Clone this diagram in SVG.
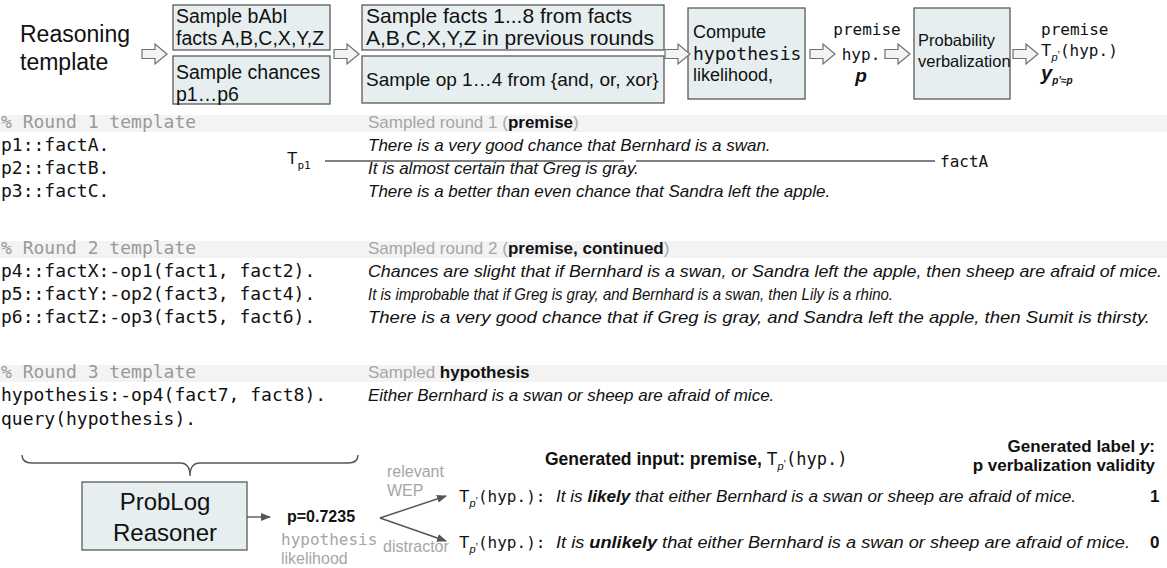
<svg xmlns="http://www.w3.org/2000/svg" width="1167" height="568" viewBox="0 0 1167 568">
<style>
.box{fill:#e6eef0;stroke:#5a5a5a;stroke-width:1.3}
.arr{fill:#f2f4f4;stroke:#707070;stroke-width:1.2}
.sans{font-family:"Liberation Sans",Arial,sans-serif;fill:#111}
.mono{font-family:"DejaVu Sans Mono","Liberation Mono",monospace;fill:#111}
.code{font-size:18px}
.cmt{fill:#999}
.gray{fill:#a6a6a6}
.band{fill:#f3f3f3}
.it{font-style:italic}
.b{font-weight:bold}
.n{font-weight:normal}
.sent{font-size:17px;font-style:italic}
.ln{stroke:#555;stroke-width:1.4;fill:none}
</style>
<defs>
<path id="harrow" d="M0,-4.5 L13,-4.5 L13,-10 L25,0 L13,10 L13,4.5 L0,4.5 Z"/>
<marker id="ah" markerWidth="10" markerHeight="8" refX="9" refY="4" orient="auto" markerUnits="userSpaceOnUse"><path d="M0,0 L10,4 L0,8 Z" fill="#555"/></marker>
</defs>

<rect class="band" x="0" y="115" width="1167" height="17"/>
<rect class="band" x="0" y="241" width="1167" height="17"/>
<rect class="band" x="0" y="365" width="1167" height="17"/>

<g id="title">
<text class="sans" x="20" y="42" font-size="23">Reasoning</text>
<text class="sans" x="20" y="70" font-size="23">template</text>
</g>

<g id="n-babi">
<rect class="box" x="173" y="5" width="157" height="45"/>
<text class="sans" x="176" y="23" font-size="19.5">Sample bAbI</text>
<text class="sans" x="176" y="45" font-size="19.5">facts A,B,C,X,Y,Z</text>
</g>
<g id="n-chances">
<rect class="box" x="173" y="56" width="157" height="48"/>
<text class="sans" x="176" y="79" font-size="19.5">Sample chances</text>
<text class="sans" x="176" y="101" font-size="19.5">p1…p6</text>
</g>
<g id="n-facts">
<rect class="box" x="362" y="5" width="302" height="45"/>
<text class="sans" x="366" y="23" font-size="21">Sample facts 1...8 from facts</text>
<text class="sans" x="366" y="45" font-size="21">A,B,C,X,Y,Z in previous rounds</text>
</g>
<g id="n-ops">
<rect class="box" x="362" y="56" width="302" height="47"/>
<text class="sans" x="366" y="86" font-size="19">Sample op 1…4 from {and, or, xor}</text>
</g>
<g id="n-compute">
<rect class="box" x="688" y="8" width="117" height="91"/>
<text class="sans" x="693" y="38" font-size="18">Compute</text>
<text class="mono" x="693" y="60" font-size="18">hypothesis</text>
<text class="sans" x="693" y="81" font-size="18">likelihood,</text>
</g>
<g id="n-mid">
<text class="mono" x="867" y="35" font-size="16" text-anchor="middle">premise</text>
<text class="mono" x="861" y="60" font-size="16" text-anchor="middle">hyp.</text>
<text class="sans b it" x="861" y="82" font-size="19" text-anchor="middle">p</text>
</g>
<g id="n-verbal">
<rect class="box" x="914" y="8" width="96" height="91"/>
<text class="sans" x="918" y="46" font-size="16.5">Probability</text>
<text class="sans" x="918" y="67" font-size="16.5">verbalization</text>
</g>
<g id="n-out">
<text class="mono" x="1041" y="35" font-size="16">premise</text>
<text class="sans" x="1041" y="56" font-size="17">T<tspan class="it" font-size="11" dy="5">p</tspan><tspan font-size="11" dy="-2">’</tspan><tspan class="mono" font-size="16" dy="-3">(hyp.)</tspan></text>
<text class="sans b it" x="1041" y="80" font-size="20">y<tspan font-size="10" dy="4">p’≈p</tspan></text>
</g>

<g id="round1">
<text class="mono code cmt" x="1" y="128">% Round 1 template</text>
<text class="sans gray" x="368" y="128" font-size="17">Sampled round 1 (<tspan class="b" fill="#111">premise</tspan>)</text>
<text class="mono code" x="1" y="151">p1::factA.</text>
<text class="mono code" x="1" y="174">p2::factB.</text>
<text class="mono code" x="1" y="197">p3::factC.</text>
<text class="sans sent" x="368" y="151">There is a very good chance that Bernhard is a swan.</text>
<text class="sans sent" x="368" y="174">It is almost certain that Greg is gray.</text>
<text class="sans sent" x="368" y="197">There is a better than even chance that Sandra left the apple.</text>
<text class="sans" x="287" y="164" font-size="17">T<tspan class="mono" font-size="11" dy="5">p1</tspan></text>
<text class="mono" x="940" y="167" font-size="16">factA</text>
</g>

<g id="round2">
<text class="mono code cmt" x="1" y="254">% Round 2 template</text>
<text class="sans gray" x="368" y="254" font-size="17">Sampled round 2 (<tspan class="b" fill="#111">premise, continued</tspan>)</text>
<text class="mono code" x="1" y="277">p4::factX:-op1(fact1, fact2).</text>
<text class="mono code" x="1" y="300">p5::factY:-op2(fact3, fact4).</text>
<text class="mono code" x="1" y="323">p6::factZ:-op3(fact5, fact6).</text>
<text class="sans sent" x="368" y="277" textLength="794" lengthAdjust="spacingAndGlyphs">Chances are slight that if Bernhard is a swan, or Sandra left the apple, then sheep are afraid of mice.</text>
<text class="sans sent" x="368" y="300" textLength="525" lengthAdjust="spacingAndGlyphs">It is improbable that if Greg is gray, and Bernhard is a swan, then Lily is a rhino.</text>
<text class="sans sent" x="368" y="323" textLength="782" lengthAdjust="spacingAndGlyphs">There is a very good chance that if Greg is gray, and Sandra left the apple, then Sumit is thirsty.</text>
</g>

<g id="round3">
<text class="mono code cmt" x="1" y="378">% Round 3 template</text>
<text class="sans gray" x="368" y="378" font-size="17">Sampled <tspan class="b" fill="#111">hypothesis</tspan></text>
<text class="mono code" x="1" y="401">hypothesis:-op4(fact7, fact8).</text>
<text class="mono code" x="1" y="425">query(hypothesis).</text>
<text class="sans sent" x="368" y="401">Either Bernhard is a swan or sheep are afraid of mice.</text>
</g>

<g id="n-problog">
<rect class="box" x="82" y="482" width="165" height="68"/>
<text class="sans" x="165" y="510" font-size="24" text-anchor="middle">ProbLog</text>
<text class="sans" x="165" y="541" font-size="24" text-anchor="middle">Reasoner</text>
</g>
<g id="n-p">
<text class="sans b" x="287" y="522" font-size="16">p=0.7235</text>
<text class="mono gray" x="281" y="545" font-size="16">hypothesis</text>
<text class="sans gray" x="281" y="564" font-size="16">likelihood</text>
</g>
<g id="labels">
<text class="sans gray" x="387" y="477" font-size="16">relevant</text>
<text class="sans gray" x="387" y="496" font-size="16">WEP</text>
<text class="sans gray" x="383" y="552" font-size="16">distractor</text>
</g>
<g id="n-head">
<text class="sans b" x="545" y="465" font-size="17.5">Generated input: premise, <tspan class="n">T</tspan><tspan class="n it" font-size="11" dy="5">p</tspan><tspan class="n" font-size="11" dy="-2">’</tspan><tspan class="n mono" font-size="17" dy="-3">(hyp.)</tspan></text>
<text class="sans b" x="1155" y="452" font-size="17" text-anchor="end">Generated label <tspan class="it">y</tspan>:</text>
<text class="sans b" x="1155" y="471" font-size="17" text-anchor="end">p verbalization validity</text>
</g>
<g id="n-row1">
<text class="sans" x="459" y="502" font-size="17">T<tspan class="it" font-size="11" dy="5">p</tspan><tspan font-size="11" dy="-2">’</tspan><tspan class="mono" font-size="16" dy="-3">(hyp.):</tspan></text>
<text class="sans it" x="556" y="502" font-size="16" textLength="520" lengthAdjust="spacingAndGlyphs">It is <tspan class="b">likely</tspan> that either Bernhard is a swan or sheep are afraid of mice.</text>
<text class="sans b" x="1150" y="502" font-size="17">1</text>
</g>
<g id="n-row2">
<text class="sans" x="459" y="548" font-size="17">T<tspan class="it" font-size="11" dy="5">p</tspan><tspan font-size="11" dy="-2">’</tspan><tspan class="mono" font-size="16" dy="-3">(hyp.):</tspan></text>
<text class="sans it" x="556" y="548" font-size="16" textLength="574" lengthAdjust="spacingAndGlyphs">It is <tspan class="b">unlikely</tspan> that either Bernhard is a swan or sheep are afraid of mice.</text>
<text class="sans b" x="1150" y="548" font-size="17">0</text>
</g>

<g id="connectors">
<use href="#harrow" class="arr" x="142" y="54"/>
<use href="#harrow" class="arr" x="334" y="54"/>
<use href="#harrow" class="arr" x="665" y="54"/>
<use href="#harrow" class="arr" x="810" y="54"/>
<use href="#harrow" class="arr" x="885" y="54"/>
<use href="#harrow" class="arr" x="1013" y="54"/>
<path class="ln" d="M325,161 L624,161 M636,161 L935,161"/>
<path class="ln" d="M22,455 Q22,463 32,463 L180,463 Q190,463 190,476 Q190,463 200,463 L348,463 Q358,463 358,455"/>
<path class="ln" d="M247,517 L270,517" marker-end="url(#ah)"/>
<path class="ln" d="M380,518 L446,496" marker-end="url(#ah)"/>
<path class="ln" d="M380,518 L446,541" marker-end="url(#ah)"/>
</g>
</svg>
